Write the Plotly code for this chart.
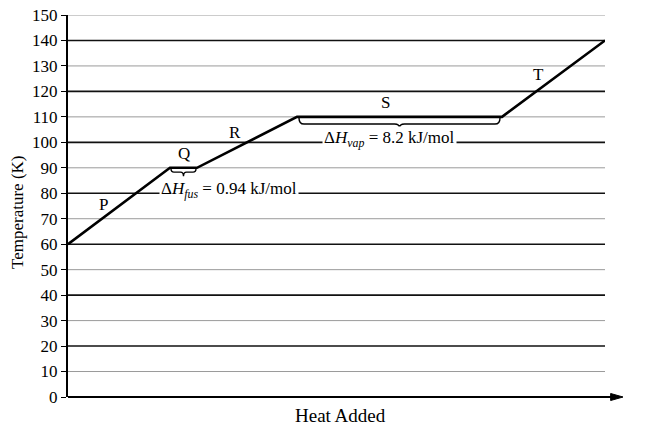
import plotly.graph_objects as go

# Heating curve data (heat added in arbitrary units, temperature in K)
heat = [0, 102, 129, 229, 434, 537]
temperature = [60, 90, 90, 110, 110, 140]

y_ticks = [0, 10, 20, 30, 40, 50, 60, 70, 80, 90, 100, 110, 120, 130, 140, 150]

segment_labels = ["P", "Q", "R", "S", "T"]
segment_label_x = [35, 116, 167, 317, 470]
segment_label_y = [75.5, 95.5, 103.8, 115.5, 126.5]

fus_text = "Δ<i>H</i><sub><i>fus</i></sub> = 0.94 kJ/mol"
vap_text = "Δ<i>H</i><sub><i>vap</i></sub> = 8.2 kJ/mol"
fus_pos = (161, 81.3)
vap_pos = (321, 101.2)

x_title = "Heat Added"
y_title = "Temperature (K)"

FONT = "Liberation Serif"

fig = go.Figure()

fig.add_trace(go.Scatter(
    x=heat, y=temperature, mode="lines",
    line=dict(color="black", width=2.6),
    hoverinfo="skip", cliponaxis=False, showlegend=False,
))

shapes = []
for v in y_ticks:
    if v == 0:
        continue
    thick = (v % 20 == 0)
    shapes.append(dict(
        type="line", xref="x", yref="y", x0=0, x1=537, y0=v, y1=v,
        line=dict(color="#111111" if thick else "#9a9a9a", width=1.6 if thick else 1),
        layer="below",
    ))


def brace(x0, x1, y, d1, d2, r):
    xm = (x0 + x1) / 2
    return (f"M {x0},{y} Q {x0},{y-d1} {x0+r},{y-d1} L {xm-r},{y-d1} "
            f"Q {xm},{y-d1} {xm},{y-d2} Q {xm},{y-d1} {xm+r},{y-d1} "
            f"L {x1-r},{y-d1} Q {x1},{y-d1} {x1},{y}")


shapes.append(dict(type="path", xref="x", yref="y",
                   path=brace(heat[1] + 1, heat[2] - 1, temperature[1] - 0.4, 1.3, 2.9, 3),
                   line=dict(color="black", width=1.4)))
shapes.append(dict(type="path", xref="x", yref="y",
                   path=brace(heat[3] + 2, heat[4] - 2, temperature[3] - 0.4, 2.4, 4.0, 5),
                   line=dict(color="black", width=1.4)))

# x axis drawn as an arrow (paper coordinates: 1 unit = plot width / height)
arrow_end = 555 / 537
shapes.append(dict(type="line", xref="paper", yref="paper", x0=0, x1=arrow_end - 0.01,
                   y0=0, y1=0, line=dict(color="black", width=2)))
hh = 3.5 / 382
shapes.append(dict(type="path", xref="paper", yref="paper",
                   path=f"M {arrow_end - 0.023},{hh} L {arrow_end},0 L {arrow_end - 0.023},{-hh} Z",
                   fillcolor="black", line=dict(color="black", width=1)))

annotations = []
for t, x, y in zip(segment_labels, segment_label_x, segment_label_y):
    annotations.append(dict(x=x, y=y, xref="x", yref="y", text=t, showarrow=False,
                            font=dict(family=FONT, size=17, color="black")))

annotations.append(dict(x=fus_pos[0], y=fus_pos[1], xref="x", yref="y", text=fus_text,
                        showarrow=False, bgcolor="white", borderpad=1,
                        font=dict(family=FONT, size=17, color="black")))
annotations.append(dict(x=vap_pos[0], y=vap_pos[1], xref="x", yref="y", text=vap_text,
                        showarrow=False, bgcolor="white", borderpad=1,
                        font=dict(family=FONT, size=17, color="black")))

annotations.append(dict(x=(340.5 - 68) / 537, y=-18.5 / 382, xref="paper", yref="paper",
                        xanchor="center", yanchor="middle",
                        text=x_title, showarrow=False,
                        font=dict(family=FONT, size=19, color="black")))
annotations.append(dict(x=(17 - 68) / 537, y=(397 - 212) / 382, xref="paper", yref="paper",
                        xanchor="center", yanchor="middle", textangle=-90,
                        text=y_title, showarrow=False,
                        font=dict(family=FONT, size=17, color="black")))

fig.update_layout(
    width=667, height=437,
    margin=dict(l=68, r=62, t=15, b=40, autoexpand=False),
    paper_bgcolor="white", plot_bgcolor="white",
    showlegend=False, hovermode=False,
    shapes=shapes, annotations=annotations,
    xaxis=dict(range=[0, 537], showgrid=False, zeroline=False, showline=False,
               showticklabels=False, ticks="", automargin=False),
    yaxis=dict(range=[0, 150], tickvals=y_ticks, showgrid=False, zeroline=False,
               showline=True, linecolor="black", linewidth=2, automargin=False,
               ticks="outside", ticklen=5, tickwidth=1.3, tickcolor="black",
               ticklabeloverflow="allow",
               tickfont=dict(family=FONT, size=17, color="black")),
)

fig.write_html("out.html", config={"displayModeBar": False},
               post_script="document.body.style.margin='0';document.body.style.padding='0';")
